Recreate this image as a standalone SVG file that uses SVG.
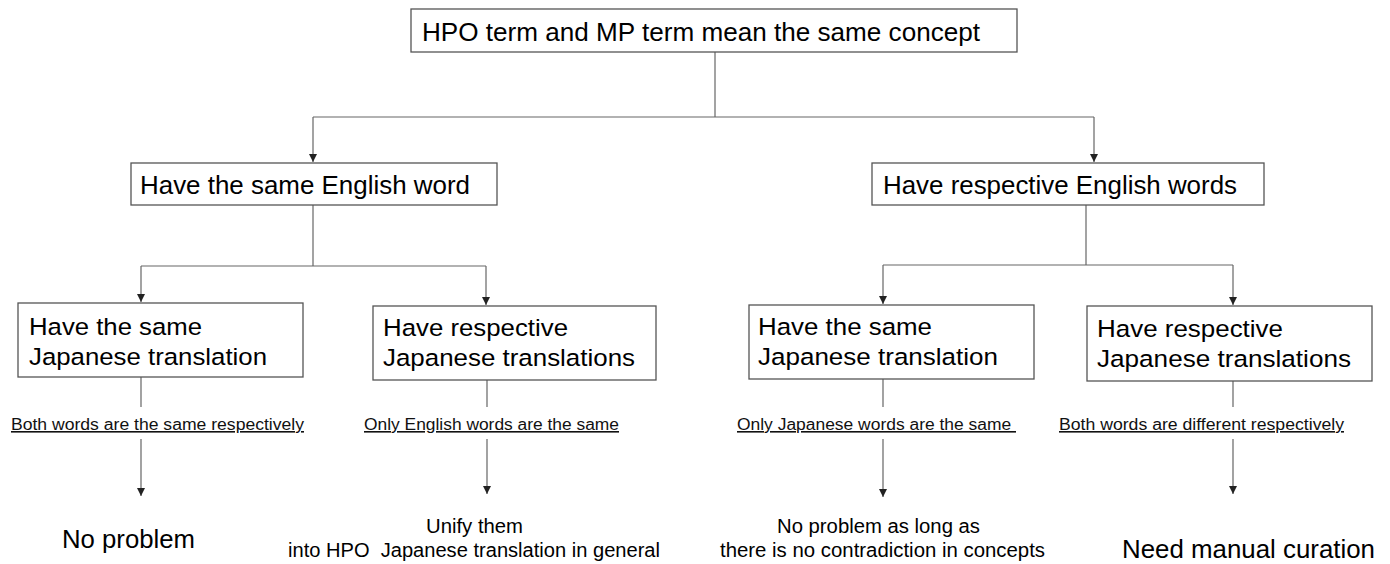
<svg xmlns="http://www.w3.org/2000/svg" width="1390" height="564" viewBox="0 0 1390 564">
<style>
  .box{fill:#fff;stroke:#555;stroke-width:1.3}
  .t{font-family:"Liberation Sans",Arial,sans-serif;fill:#000}
  .t1{font-size:26px}
  .t2{font-size:25.5px}
  .t3{font-size:24.5px}
  .lab{font-size:16px;text-decoration:underline;fill:#111}
  .res{font-size:20px}
  .resb{font-size:25.5px}
  .c{fill:none;stroke:#666;stroke-width:1.2}
</style>
<defs>
  <marker id="ah" markerUnits="userSpaceOnUse" markerWidth="9" markerHeight="9" refX="8" refY="4" orient="auto">
    <path d="M0,0 L8,4 L0,8 z" fill="#222"/>
  </marker>
</defs>
<rect width="1390" height="564" fill="#fff"/>

<g id="connectors">
  <path class="c" d="M715,52 V117"/>
  <path class="c" d="M313,117 H1094"/>
  <path class="c" d="M313,117 V162" marker-end="url(#ah)"/>
  <path class="c" d="M1094,117 V162" marker-end="url(#ah)"/>

  <path class="c" d="M313,205 V266"/>
  <path class="c" d="M141,266 H486"/>
  <path class="c" d="M141,266 V302" marker-end="url(#ah)"/>
  <path class="c" d="M486,266 V305" marker-end="url(#ah)"/>

  <path class="c" d="M1086,205 V265"/>
  <path class="c" d="M883,265 H1233"/>
  <path class="c" d="M883,265 V304" marker-end="url(#ah)"/>
  <path class="c" d="M1233,265 V305" marker-end="url(#ah)"/>

  <path class="c" d="M141,377 V407 M141,439 V496" marker-end="url(#ah)"/>
  <path class="c" d="M487,380 V407 M487,439 V494" marker-end="url(#ah)"/>
  <path class="c" d="M883,379 V407 M883,439 V497" marker-end="url(#ah)"/>
  <path class="c" d="M1233,381 V407 M1233,439 V494" marker-end="url(#ah)"/>
</g>

<g id="top">
  <rect class="box" x="411" y="9" width="606" height="43"/>
  <text class="t t1" x="422" y="41" textLength="558" lengthAdjust="spacingAndGlyphs">HPO term and MP term mean the same concept</text>
</g>

<g id="same-english">
  <rect class="box" x="131" y="163" width="366" height="42"/>
  <text class="t t2" x="140" y="194" textLength="330" lengthAdjust="spacingAndGlyphs">Have the same English word</text>
</g>

<g id="resp-english">
  <rect class="box" x="872" y="163" width="392" height="42"/>
  <text class="t t2" x="883" y="194" textLength="354" lengthAdjust="spacingAndGlyphs">Have respective English words</text>
</g>

<g id="a-same-jp">
  <rect class="box" x="18" y="303" width="285" height="74"/>
  <text class="t t3" x="29" y="335" textLength="173" lengthAdjust="spacingAndGlyphs">Have the same</text>
  <text class="t t3" x="29" y="365" textLength="238" lengthAdjust="spacingAndGlyphs">Japanese translation</text>
</g>

<g id="b-resp-jp">
  <rect class="box" x="373" y="306" width="283" height="74"/>
  <text class="t t3" x="383" y="336" textLength="185" lengthAdjust="spacingAndGlyphs">Have respective</text>
  <text class="t t3" x="383" y="366" textLength="252" lengthAdjust="spacingAndGlyphs">Japanese translations</text>
</g>

<g id="c-same-jp">
  <rect class="box" x="749" y="305" width="285" height="74"/>
  <text class="t t3" x="758" y="335" textLength="174" lengthAdjust="spacingAndGlyphs">Have the same</text>
  <text class="t t3" x="758" y="365" textLength="240" lengthAdjust="spacingAndGlyphs">Japanese translation</text>
</g>

<g id="d-resp-jp">
  <rect class="box" x="1087" y="306" width="285" height="75"/>
  <text class="t t3" x="1097" y="337" textLength="186" lengthAdjust="spacingAndGlyphs">Have respective</text>
  <text class="t t3" x="1097" y="367" textLength="254" lengthAdjust="spacingAndGlyphs">Japanese translations</text>
</g>

<g id="labels">
  <text class="t lab" x="11" y="430" textLength="293" lengthAdjust="spacingAndGlyphs">Both words are the same respectively</text>
  <text class="t lab" x="364" y="430" textLength="255" lengthAdjust="spacingAndGlyphs">Only English words are the same</text>
  <text class="t lab" x="737" y="430" textLength="279" lengthAdjust="spacingAndGlyphs" style="white-space:pre">Only Japanese words are the same </text>
  <text class="t lab" x="1059" y="430" textLength="285" lengthAdjust="spacingAndGlyphs">Both words are different respectively</text>
</g>

<g id="r1">
  <text class="t resb" x="62" y="548" textLength="133" lengthAdjust="spacingAndGlyphs">No problem</text>
</g>
<g id="r2">
  <text class="t res" x="426" y="533" textLength="97" lengthAdjust="spacingAndGlyphs">Unify them</text>
  <text class="t res" x="288" y="557" textLength="372" lengthAdjust="spacingAndGlyphs" style="white-space:pre">into HPO  Japanese translation in general</text>
</g>
<g id="r3">
  <text class="t res" x="777" y="533" textLength="203" lengthAdjust="spacingAndGlyphs">No problem as long as</text>
  <text class="t res" x="720" y="557" textLength="325" lengthAdjust="spacingAndGlyphs">there is no contradiction in concepts</text>
</g>
<g id="r4">
  <text class="t resb" x="1122" y="558" textLength="253" lengthAdjust="spacingAndGlyphs">Need manual curation</text>
</g>
</svg>
